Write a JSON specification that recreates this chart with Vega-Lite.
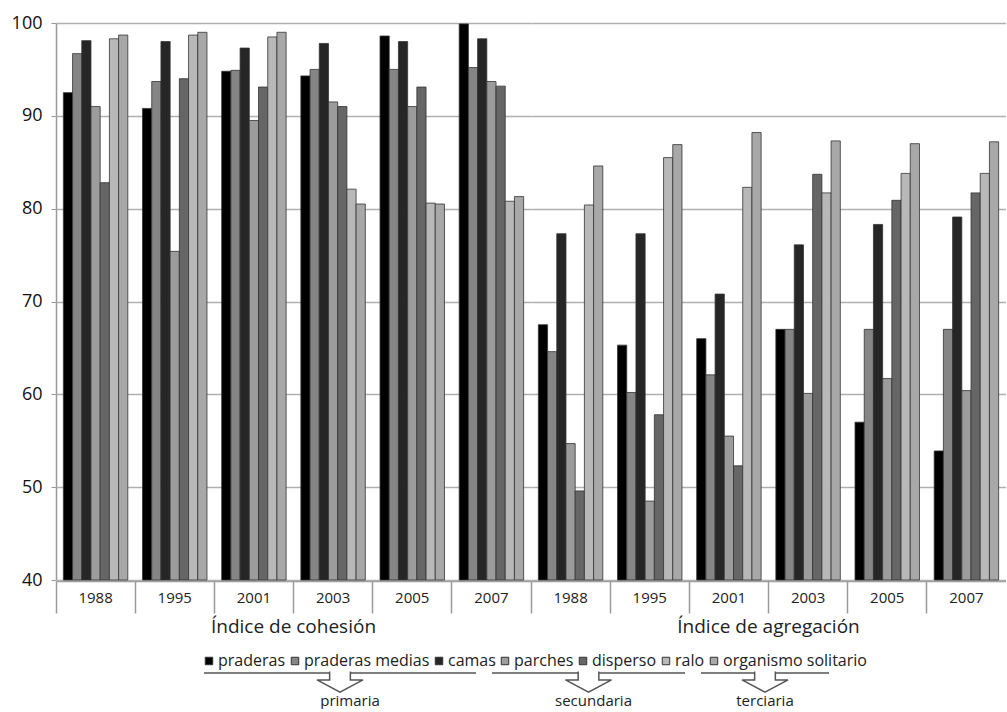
{
  "$schema": "https://vega.github.io/schema/vega-lite/v6.json",
  "padding": {"left": 11, "top": 14, "right": 0, "bottom": 0},
  "background": "white",
  "config": {
    "font": "Open Sans",
    "view": {"stroke": null}
  },
  "datasets": {
    "barras": [
      {"indice": "Índice de cohesión", "anio": "1988", "serie": "praderas", "valor": 92.5},
      {"indice": "Índice de cohesión", "anio": "1988", "serie": "praderas medias", "valor": 96.7},
      {"indice": "Índice de cohesión", "anio": "1988", "serie": "camas", "valor": 98.1},
      {"indice": "Índice de cohesión", "anio": "1988", "serie": "parches", "valor": 91.0},
      {"indice": "Índice de cohesión", "anio": "1988", "serie": "disperso", "valor": 82.8},
      {"indice": "Índice de cohesión", "anio": "1988", "serie": "ralo", "valor": 98.3},
      {"indice": "Índice de cohesión", "anio": "1988", "serie": "organismo solitario", "valor": 98.7},
      {"indice": "Índice de cohesión", "anio": "1995", "serie": "praderas", "valor": 90.8},
      {"indice": "Índice de cohesión", "anio": "1995", "serie": "praderas medias", "valor": 93.7},
      {"indice": "Índice de cohesión", "anio": "1995", "serie": "camas", "valor": 98.0},
      {"indice": "Índice de cohesión", "anio": "1995", "serie": "parches", "valor": 75.4},
      {"indice": "Índice de cohesión", "anio": "1995", "serie": "disperso", "valor": 94.0},
      {"indice": "Índice de cohesión", "anio": "1995", "serie": "ralo", "valor": 98.7},
      {"indice": "Índice de cohesión", "anio": "1995", "serie": "organismo solitario", "valor": 99.0},
      {"indice": "Índice de cohesión", "anio": "2001", "serie": "praderas", "valor": 94.8},
      {"indice": "Índice de cohesión", "anio": "2001", "serie": "praderas medias", "valor": 94.9},
      {"indice": "Índice de cohesión", "anio": "2001", "serie": "camas", "valor": 97.3},
      {"indice": "Índice de cohesión", "anio": "2001", "serie": "parches", "valor": 89.5},
      {"indice": "Índice de cohesión", "anio": "2001", "serie": "disperso", "valor": 93.1},
      {"indice": "Índice de cohesión", "anio": "2001", "serie": "ralo", "valor": 98.5},
      {"indice": "Índice de cohesión", "anio": "2001", "serie": "organismo solitario", "valor": 99.0},
      {"indice": "Índice de cohesión", "anio": "2003", "serie": "praderas", "valor": 94.3},
      {"indice": "Índice de cohesión", "anio": "2003", "serie": "praderas medias", "valor": 95.0},
      {"indice": "Índice de cohesión", "anio": "2003", "serie": "camas", "valor": 97.8},
      {"indice": "Índice de cohesión", "anio": "2003", "serie": "parches", "valor": 91.5},
      {"indice": "Índice de cohesión", "anio": "2003", "serie": "disperso", "valor": 91.0},
      {"indice": "Índice de cohesión", "anio": "2003", "serie": "ralo", "valor": 82.1},
      {"indice": "Índice de cohesión", "anio": "2003", "serie": "organismo solitario", "valor": 80.5},
      {"indice": "Índice de cohesión", "anio": "2005", "serie": "praderas", "valor": 98.6},
      {"indice": "Índice de cohesión", "anio": "2005", "serie": "praderas medias", "valor": 95.0},
      {"indice": "Índice de cohesión", "anio": "2005", "serie": "camas", "valor": 98.0},
      {"indice": "Índice de cohesión", "anio": "2005", "serie": "parches", "valor": 91.0},
      {"indice": "Índice de cohesión", "anio": "2005", "serie": "disperso", "valor": 93.1},
      {"indice": "Índice de cohesión", "anio": "2005", "serie": "ralo", "valor": 80.6},
      {"indice": "Índice de cohesión", "anio": "2005", "serie": "organismo solitario", "valor": 80.5},
      {"indice": "Índice de cohesión", "anio": "2007", "serie": "praderas", "valor": 99.9},
      {"indice": "Índice de cohesión", "anio": "2007", "serie": "praderas medias", "valor": 95.2},
      {"indice": "Índice de cohesión", "anio": "2007", "serie": "camas", "valor": 98.3},
      {"indice": "Índice de cohesión", "anio": "2007", "serie": "parches", "valor": 93.7},
      {"indice": "Índice de cohesión", "anio": "2007", "serie": "disperso", "valor": 93.2},
      {"indice": "Índice de cohesión", "anio": "2007", "serie": "ralo", "valor": 80.8},
      {"indice": "Índice de cohesión", "anio": "2007", "serie": "organismo solitario", "valor": 81.3},
      {"indice": "Índice de agregación", "anio": "1988", "serie": "praderas", "valor": 67.5},
      {"indice": "Índice de agregación", "anio": "1988", "serie": "praderas medias", "valor": 64.6},
      {"indice": "Índice de agregación", "anio": "1988", "serie": "camas", "valor": 77.3},
      {"indice": "Índice de agregación", "anio": "1988", "serie": "parches", "valor": 54.7},
      {"indice": "Índice de agregación", "anio": "1988", "serie": "disperso", "valor": 49.6},
      {"indice": "Índice de agregación", "anio": "1988", "serie": "ralo", "valor": 80.4},
      {"indice": "Índice de agregación", "anio": "1988", "serie": "organismo solitario", "valor": 84.6},
      {"indice": "Índice de agregación", "anio": "1995", "serie": "praderas", "valor": 65.3},
      {"indice": "Índice de agregación", "anio": "1995", "serie": "praderas medias", "valor": 60.2},
      {"indice": "Índice de agregación", "anio": "1995", "serie": "camas", "valor": 77.3},
      {"indice": "Índice de agregación", "anio": "1995", "serie": "parches", "valor": 48.5},
      {"indice": "Índice de agregación", "anio": "1995", "serie": "disperso", "valor": 57.8},
      {"indice": "Índice de agregación", "anio": "1995", "serie": "ralo", "valor": 85.5},
      {"indice": "Índice de agregación", "anio": "1995", "serie": "organismo solitario", "valor": 86.9},
      {"indice": "Índice de agregación", "anio": "2001", "serie": "praderas", "valor": 66.0},
      {"indice": "Índice de agregación", "anio": "2001", "serie": "praderas medias", "valor": 62.1},
      {"indice": "Índice de agregación", "anio": "2001", "serie": "camas", "valor": 70.8},
      {"indice": "Índice de agregación", "anio": "2001", "serie": "parches", "valor": 55.5},
      {"indice": "Índice de agregación", "anio": "2001", "serie": "disperso", "valor": 52.3},
      {"indice": "Índice de agregación", "anio": "2001", "serie": "ralo", "valor": 82.3},
      {"indice": "Índice de agregación", "anio": "2001", "serie": "organismo solitario", "valor": 88.2},
      {"indice": "Índice de agregación", "anio": "2003", "serie": "praderas", "valor": 67.0},
      {"indice": "Índice de agregación", "anio": "2003", "serie": "praderas medias", "valor": 67.0},
      {"indice": "Índice de agregación", "anio": "2003", "serie": "camas", "valor": 76.1},
      {"indice": "Índice de agregación", "anio": "2003", "serie": "parches", "valor": 60.1},
      {"indice": "Índice de agregación", "anio": "2003", "serie": "disperso", "valor": 83.7},
      {"indice": "Índice de agregación", "anio": "2003", "serie": "ralo", "valor": 81.7},
      {"indice": "Índice de agregación", "anio": "2003", "serie": "organismo solitario", "valor": 87.3},
      {"indice": "Índice de agregación", "anio": "2005", "serie": "praderas", "valor": 57.0},
      {"indice": "Índice de agregación", "anio": "2005", "serie": "praderas medias", "valor": 67.0},
      {"indice": "Índice de agregación", "anio": "2005", "serie": "camas", "valor": 78.3},
      {"indice": "Índice de agregación", "anio": "2005", "serie": "parches", "valor": 61.7},
      {"indice": "Índice de agregación", "anio": "2005", "serie": "disperso", "valor": 80.9},
      {"indice": "Índice de agregación", "anio": "2005", "serie": "ralo", "valor": 83.8},
      {"indice": "Índice de agregación", "anio": "2005", "serie": "organismo solitario", "valor": 87.0},
      {"indice": "Índice de agregación", "anio": "2007", "serie": "praderas", "valor": 53.9},
      {"indice": "Índice de agregación", "anio": "2007", "serie": "praderas medias", "valor": 67.0},
      {"indice": "Índice de agregación", "anio": "2007", "serie": "camas", "valor": 79.1},
      {"indice": "Índice de agregación", "anio": "2007", "serie": "parches", "valor": 60.4},
      {"indice": "Índice de agregación", "anio": "2007", "serie": "disperso", "valor": 81.7},
      {"indice": "Índice de agregación", "anio": "2007", "serie": "ralo", "valor": 83.8},
      {"indice": "Índice de agregación", "anio": "2007", "serie": "organismo solitario", "valor": 87.2}
    ],
    "grupos": [
      {"grupo": "primaria"},
      {"grupo": "secundaria"},
      {"grupo": "terciaria"}
    ]
  },
  "spacing": 31,
  "vconcat": [
    {
      "data": {"name": "barras"},
      "facet": {
        "column": {
          "field": "indice", "type": "nominal",
          "sort": ["Índice de cohesión", "Índice de agregación"],
          "header": {"title": null, "labelOrient": "bottom", "labelFontSize": 19, "labelPadding": 4, "labelColor": "#222", "labelFont": "Open Sans"}
        }
      },
      "spacing": 0,
      "spec": {
        "width": 475,
        "height": 557,
        "mark": {"type": "bar", "stroke": "#333", "strokeWidth": 0.8},
        "encoding": {
          "x": {
            "field": "anio", "type": "nominal", "title": null,
            "scale": {"paddingInner": 0, "paddingOuter": 0},
            "axis": {"bandPosition": 0, "tickSize": 32, "labelPadding": -23, "labelAngle": 0, "labelFontSize": 15, "labelColor": "#222", "domainColor": "#999", "domainWidth": 1.5, "tickColor": "#999", "tickWidth": 1.5}
          },
          "xOffset": {
            "field": "serie", "type": "nominal",
            "sort": ["praderas", "praderas medias", "camas", "parches", "disperso", "ralo", "organismo solitario"],
            "scale": {"paddingInner": 0, "paddingOuter": 0.8}
          },
          "y": {
            "field": "valor", "type": "quantitative", "title": null,
            "scale": {"domain": [40, 100], "zero": false, "nice": false},
            "axis": {"values": [40, 50, 60, 70, 80, 90, 100], "grid": true, "gridColor": "#b0b0b0", "gridWidth": 1.5, "tickSize": 5, "tickColor": "#999", "domainColor": "#999", "domainWidth": 1.5, "labelFontSize": 18, "labelPadding": 9, "labelColor": "#111"}
          },
          "y2": {"datum": 40},
          "color": {
            "field": "serie", "type": "nominal",
            "scale": {
              "domain": ["praderas", "praderas medias", "camas", "parches", "disperso", "ralo", "organismo solitario"],
              "range": ["#000000", "#858585", "#262626", "#9c9c9c", "#666666", "#b8b8b8", "#a8a8a8"]
            },
            "legend": {"orient": "none", "legendX": 145, "legendY": 630, "direction": "horizontal", "title": null, "symbolType": "square", "symbolSize": 56, "symbolStrokeColor": "#333", "symbolStrokeWidth": 1, "labelFontSize": 16, "labelColor": "#222", "columnPadding": 1, "labelOffset": 1, "padding": 0}
          }
        }
      }
    },
    {
      "data": {"name": "grupos"},
      "spacing": 14,
      "hconcat": [
        {
          "width": 133, "height": 28,
          "transform": [{"filter": "datum.grupo === 'primaria'"}],
          "mark": {"type": "text", "text": ""},
          "encoding": {}
        },
        {
          "width": 272, "height": 28,
          "transform": [{"filter": "datum.grupo === 'primaria'"}],
          "layer": [
            {"mark": {"type": "rule", "color": "#555", "strokeWidth": 1.5},
             "encoding": {"y": {"datum": "línea", "type": "nominal", "axis": null, "scale": {"type": "point", "domain": ["línea", "etiqueta"], "padding": 0}}}},
            {"mark": {"type": "point", "shape": "M -0.45 -0.06 L -0.45 0.3 L -1 0.3 L 0 0.83 L 1 0.3 L 0.45 0.3 L 0.45 -0.06", "size": 2116, "filled": true, "fill": "white", "stroke": "#555", "strokeWidth": 1.5, "opacity": 1},
             "encoding": {"y": {"datum": "línea", "type": "nominal"}}},
            {"mark": {"type": "text", "fontSize": 15, "color": "#222", "baseline": "middle", "dx": 10},
             "encoding": {"y": {"datum": "etiqueta", "type": "nominal"}, "text": {"field": "grupo"}}}
          ]
        },
        {
          "width": 193, "height": 28,
          "transform": [{"filter": "datum.grupo === 'secundaria'"}],
          "layer": [
            {"mark": {"type": "rule", "color": "#555", "strokeWidth": 1.5},
             "encoding": {"y": {"datum": "línea", "type": "nominal", "axis": null, "scale": {"type": "point", "domain": ["línea", "etiqueta"], "padding": 0}}}},
            {"mark": {"type": "point", "shape": "M -0.45 -0.06 L -0.45 0.3 L -1 0.3 L 0 0.83 L 1 0.3 L 0.45 0.3 L 0.45 -0.06", "size": 2116, "filled": true, "fill": "white", "stroke": "#555", "strokeWidth": 1.5, "opacity": 1},
             "encoding": {"y": {"datum": "línea", "type": "nominal"}}},
            {"mark": {"type": "text", "fontSize": 15, "color": "#222", "baseline": "middle", "dx": 5},
             "encoding": {"y": {"datum": "etiqueta", "type": "nominal"}, "text": {"field": "grupo"}}}
          ]
        },
        {
          "width": 128, "height": 28,
          "transform": [{"filter": "datum.grupo === 'terciaria'"}],
          "layer": [
            {"mark": {"type": "rule", "color": "#555", "strokeWidth": 1.5},
             "encoding": {"y": {"datum": "línea", "type": "nominal", "axis": null, "scale": {"type": "point", "domain": ["línea", "etiqueta"], "padding": 0}}}},
            {"mark": {"type": "point", "shape": "M -0.45 -0.06 L -0.45 0.3 L -1 0.3 L 0 0.83 L 1 0.3 L 0.45 0.3 L 0.45 -0.06", "size": 2116, "filled": true, "fill": "white", "stroke": "#555", "strokeWidth": 1.5, "opacity": 1},
             "encoding": {"y": {"datum": "línea", "type": "nominal"}}},
            {"mark": {"type": "text", "fontSize": 15, "color": "#222", "baseline": "middle"},
             "encoding": {"y": {"datum": "etiqueta", "type": "nominal"}, "text": {"field": "grupo"}}}
          ]
        }
      ]
    }
  ]
}
